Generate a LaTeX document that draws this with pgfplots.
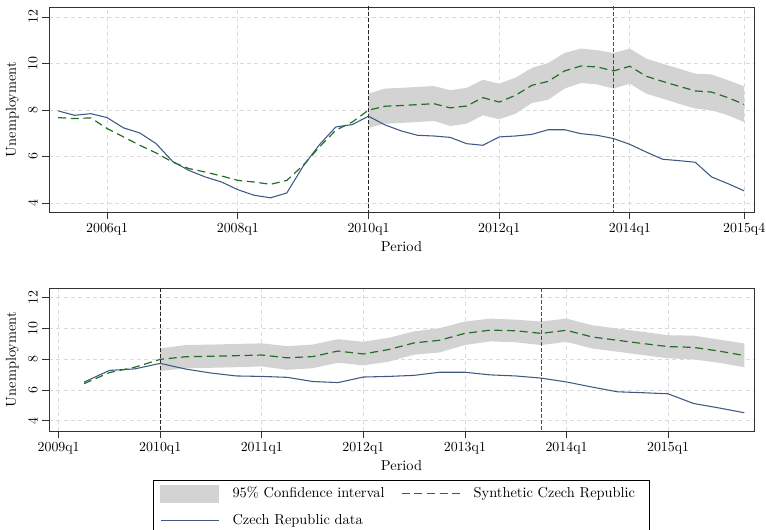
\documentclass[border=0pt]{standalone}
\usepackage{pgfplots}
\pgfplotsset{compat=1.18}
\usepackage{pgfplotstable}
\usepgfplotslibrary{fillbetween}

\definecolor{czblue}{RGB}{62,90,130}
\definecolor{syngreen}{RGB}{35,110,40}
\definecolor{band}{RGB}{211,211,211}
\definecolor{gridc}{RGB}{218,218,218}
\definecolor{framec}{RGB}{50,50,50}

\newcommand{\tickfont}{\fontsize{10.4}{12}\selectfont}
\newcommand{\labfont}{\fontsize{10.8}{13}\selectfont}

\pgfplotstableread{
t cz syn
2005.25 7.96 7.67
2005.50 7.77 7.63
2005.75 7.84 7.66
2006.00 7.67 7.20
2006.25 7.23 6.84
2006.50 7.01 6.48
2006.75 6.55 6.15
2007.00 5.79 5.76
2007.25 5.40 5.48
2007.50 5.12 5.33
2007.75 4.90 5.16
2008.00 4.57 4.97
2008.25 4.33 4.90
2008.50 4.22 4.80
2008.75 4.43 4.97
2009.00 5.58 5.62
2009.25 6.51 6.41
2009.50 7.27 7.13
2009.75 7.37 7.48
2010.00 7.73 7.99
2010.25 7.36 8.16
2010.50 7.10 8.19
2010.75 6.91 8.23
2011.00 6.88 8.27
2011.25 6.82 8.09
2011.50 6.55 8.17
2011.75 6.48 8.53
2012.00 6.84 8.34
2012.25 6.88 8.63
2012.50 6.95 9.06
2012.75 7.15 9.23
2013.00 7.15 9.68
2013.25 6.98 9.89
2013.50 6.91 9.85
2013.75 6.77 9.68
2014.00 6.52 9.88
2014.25 6.19 9.45
2014.50 5.88 9.23
2014.75 5.82 9.02
2015.00 5.75 8.82
2015.25 5.12 8.77
2015.50 4.83 8.53
2015.75 4.52 8.24
}\maindata

\pgfplotstableread{
t up lo
2010.00 8.70 7.23
2010.25 8.92 7.41
2010.50 8.95 7.44
2010.75 8.99 7.48
2011.00 9.03 7.53
2011.25 8.85 7.31
2011.50 8.95 7.41
2011.75 9.30 7.77
2012.00 9.13 7.60
2012.25 9.39 7.84
2012.50 9.81 8.30
2012.75 10.02 8.44
2013.00 10.45 8.92
2013.25 10.64 9.16
2013.50 10.57 9.10
2013.75 10.45 8.92
2014.00 10.64 9.13
2014.25 10.21 8.70
2014.50 9.99 8.49
2014.75 9.78 8.27
2015.00 9.56 8.06
2015.25 9.53 7.99
2015.50 9.28 7.77
2015.75 9.02 7.48
}\cidata

\begin{document}
\begin{tikzpicture}
\pgfplotsset{
  common/.style={
    scale only axis,
    width=528.75pt,
    axis line style={draw=framec, line width=0.7pt},
    tick style={draw=framec, line width=0.6pt},
    tick align=outside,
    tick pos=left,
    major tick length=5pt,
    xmajorgrids, ymajorgrids,
    grid style={draw=gridc, dash pattern=on 3pt off 2.5pt, line width=0.6pt},
    ytick={4,6,8,10,12},
    yticklabel style={rotate=90, anchor=south, font=\tickfont},
    xticklabel style={font=\tickfont},
    /pgf/number format/assume math mode=true,
    ylabel={Unemployment},
    xlabel={Period},
    ylabel style={font=\labfont},
    xlabel style={font=\labfont},
    clip=true,
  },
}
% ---------------- top panel ----------------
\begin{axis}[common,
  at={(36.75pt,-159pt)}, anchor=south west,
  height=153.75pt,
  xmin=2005.11, xmax=2015.90,
  ymin=3.61, ymax=12.43,
  xtick={2006,2008,2010,2012,2014,2015.75},
  xticklabels={2006q1,2008q1,2010q1,2012q1,2014q1,2015q4},
  ylabel style={at={(axis description cs:-0.036,0.5)}, anchor=south},
  xlabel style={at={(axis description cs:0.5,-0.12)}, anchor=north},
]
\addplot[draw=none, name path=up, forget plot] table[x=t, y=up] {\cidata};
\addplot[draw=none, name path=lo, forget plot] table[x=t, y=lo] {\cidata};
\addplot[fill=band, draw=none, forget plot] fill between[of=up and lo];
\draw[black!85, dash pattern=on 3pt off 1.5pt, line width=0.6pt] (axis cs:2010,3) -- (axis cs:2010,13);
\draw[black!70, dash pattern=on 3pt off 1.5pt, line width=0.6pt] (axis cs:2013.75,3) -- (axis cs:2013.75,13);
\addplot[czblue, line width=0.8pt, forget plot] table[x=t, y=cz] {\maindata};
\addplot[syngreen, line width=0.9pt, dash pattern=on 6pt off 3.5pt, forget plot] table[x=t, y=syn] {\maindata};
\end{axis}
% ---------------- bottom panel ----------------
\begin{axis}[common,
  at={(36.75pt,-323.25pt)}, anchor=south west,
  height=107.25pt,
  xmin=2008.905, xmax=2015.846,
  ymin=3.33, ymax=12.63,
  xtick={2009,2010,2011,2012,2013,2014,2015},
  xticklabels={2009q1,2010q1,2011q1,2012q1,2013q1,2014q1,2015q1},
  ylabel style={at={(axis description cs:-0.036,0.5)}, anchor=south},
  xlabel style={at={(axis description cs:0.5,-0.17)}, anchor=north},
  legend columns=2,
  legend style={at={(rel axis cs:0.1475,-0.3427)}, anchor=north west,
    draw=black, line width=0.7pt, font=\labfont,
    inner xsep=5pt, inner ysep=3pt,
    /tikz/every odd column/.append style={column sep=8pt},
    /tikz/every even column/.append style={column sep=2pt},
    /tikz/row sep=7pt,
    nodes={anchor=west}},
]
\addplot[draw=none, name path=up2, forget plot] table[x=t, y=up] {\cidata};
\addplot[draw=none, name path=lo2, forget plot] table[x=t, y=lo] {\cidata};
\addplot[fill=band, draw=none, forget plot] fill between[of=up2 and lo2];
\draw[black!85, dash pattern=on 3pt off 1.5pt, line width=0.6pt] (axis cs:2010,3) -- (axis cs:2010,13);
\draw[black!70, dash pattern=on 3pt off 1.5pt, line width=0.6pt] (axis cs:2013.75,3) -- (axis cs:2013.75,13);
\addplot[czblue, line width=0.8pt, forget plot, restrict x to domain=2009.2:2016] table[x=t, y=cz] {\maindata};
\addplot[syngreen, line width=0.9pt, dash pattern=on 6pt off 3.5pt, forget plot, restrict x to domain=2009.2:2016] table[x=t, y=syn] {\maindata};
\addlegendimage{legend image code/.code={\fill[band] (0pt,-6.4pt) rectangle (43.5pt,6.4pt);}}
\addlegendentry{\makebox[122.5pt][l]{95\% Confidence interval}}
\addlegendimage{legend image code/.code={\draw[syngreen, line width=0.9pt, dash pattern=on 6pt off 3.5pt] (0pt,0pt) -- (43.5pt,0pt);}}
\addlegendentry{\makebox[125pt][l]{Synthetic Czech Republic}}
\addlegendimage{legend image code/.code={\draw[czblue, line width=0.8pt] (0pt,0pt) -- (43.5pt,0pt);}}
\addlegendentry{Czech Republic data}
\end{axis}
\pgfresetboundingbox
\useasboundingbox (0pt,0pt) rectangle (574.5pt,-397.5pt);
\end{tikzpicture}
\end{document}
